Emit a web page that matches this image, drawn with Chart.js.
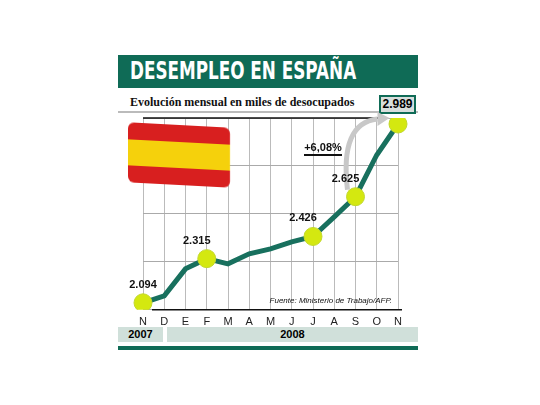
<!DOCTYPE html><html><head><meta charset="utf-8">
<script src="https://cdn.jsdelivr.net/npm/chart.js"></script>
<style>
body{margin:0;width:540px;height:405px;background:#fff;position:relative;overflow:hidden;font-family:"Liberation Sans",Arial,sans-serif}
.abs{position:absolute}
#hdr{left:118px;top:55px;width:300px;height:33px;background:#0f6b56}
#hdrt{left:130px;top:55px;color:#fff;font-weight:bold;font-size:24px;line-height:33px;transform:scaleX(0.7);transform-origin:left;font-family:"DejaVu Sans",sans-serif;white-space:nowrap}
#sub{left:130px;top:95px;font-family:"Liberation Serif",serif;font-weight:bold;font-size:12px;color:#111}
#subline{left:118px;top:111px;width:300px;height:2px;background:#bbb}
#box{left:379px;top:95px;width:33px;height:15px;border:2px solid #0f6b56;background:#d8dedc;font-weight:bold;font-size:12px;text-align:center;line-height:15px}
#flag{left:128px;top:125px;width:102px;height:60px;background:linear-gradient(#d81f1f 0 28%,#f5d10c 28% 72%,#d81f1f 72%);transform:skewY(3deg);border-radius:6px}
#y7{left:118px;top:327px;width:45px;height:15px;background:#d0e0da;font-weight:bold;font-size:11px;text-align:center;line-height:15px}
#y8{left:167px;top:327px;width:251px;height:15px;background:#d0e0da;font-weight:bold;font-size:11px;text-align:center;line-height:15px}
#bot{left:118px;top:346px;width:300px;height:4px;background:#0f6b56}
#c{position:absolute;left:0;top:0}
</style></head><body>
<div id="hdr" class="abs"></div>
<div id="hdrt" class="abs">DESEMPLEO EN ESPAÑA</div>
<div id="sub" class="abs">Evolución mensual en miles de desocupados</div>
<div id="subline" class="abs"></div>
<div id="box" class="abs">2.989</div>
<div id="y7" class="abs">2007</div>
<div id="y8" class="abs">2008</div>
<div id="bot" class="abs"></div>
<canvas id="c" width="540" height="405"></canvas>
<div id="flag" class="abs"></div>
<script>
const months=["N","D","E","F","M","A","M","J","J","A","S","O","N"];
const values=[2094,2129,2264,2315,2289,2339,2364,2399,2426,2524,2625,2834,2989];
const labelled=[0,3,8,10,12];
const valueLabels=["2.094","2.315","2.426","2.625",""];
const yTicks=[2059,2299,2539,2779,3019];
const extras={
 id:'extras',
 afterDatasetsDraw(ch){
  const c=ch.ctx,m=ch.getDatasetMeta(0).data,a=ch.chartArea;
  c.save();
  c.strokeStyle='#111';c.lineWidth=1.5;c.beginPath();c.moveTo(152,a.bottom);c.lineTo(a.right+4,a.bottom);c.stroke();
  c.beginPath();c.moveTo(143,a.top);c.lineTo(384,a.top);c.stroke();
  const s=m[10];
  c.strokeStyle='#c8c8c8';c.lineWidth=5;c.beginPath();
  c.moveTo(s.x-8,s.y-7);c.quadraticCurveTo(s.x-16,a.top+5,s.x+22,a.top+1);c.stroke();
  c.fillStyle='#c8c8c8';c.beginPath();c.moveTo(s.x+22,a.top-6);c.lineTo(s.x+34,a.top);c.lineTo(s.x+22,a.top+8);c.fill();
  c.fillStyle='#111';c.font='bold 11px "Liberation Sans",sans-serif';c.textAlign='center';
  labelled.forEach((i,k)=>{if(valueLabels[k]){const p=m[i];c.fillText(valueLabels[k],p.x-(k==0?0:10),p.y-15);}});
  c.fillText('+6,08%',323,151);
  c.fillRect(304,154,38,2);
  c.font='italic 8px "Liberation Sans",sans-serif';c.textAlign='right';
  c.fillText('Fuente: Ministerio de Trabajo/AFP.',392,303);
  c.restore();
 }
};
new Chart(document.getElementById('c'),{
 type:'line',
 data:{labels:months,datasets:[{data:values,borderColor:'#18705e',borderWidth:5,tension:0,
  pointRadius:values.map((v,i)=>labelled.includes(i)?9:0),pointBackgroundColor:'#d4e810',pointBorderColor:'#c2d830',pointBorderWidth:1}]},
 options:{responsive:false,animation:false,plugins:{legend:{display:false},tooltip:{enabled:false}},
  layout:{padding:{left:143,right:142,top:118,bottom:70}},
  scales:{
   x:{offset:false,grid:{color:'#bbb',borderDash:[1,2],drawTicks:false},border:{display:false},
      ticks:{padding:6,color:'#222',font:{size:11,family:'"Liberation Sans",sans-serif'},maxRotation:0,autoSkip:false}},
   y:{min:2059,max:3019,afterBuildTicks(ax){ax.ticks=yTicks.map(v=>({value:v}));},
      grid:{color:'#aaa',drawTicks:false},border:{display:false},ticks:{display:false}}
  }},
 plugins:[extras]
});
</script></body></html>
